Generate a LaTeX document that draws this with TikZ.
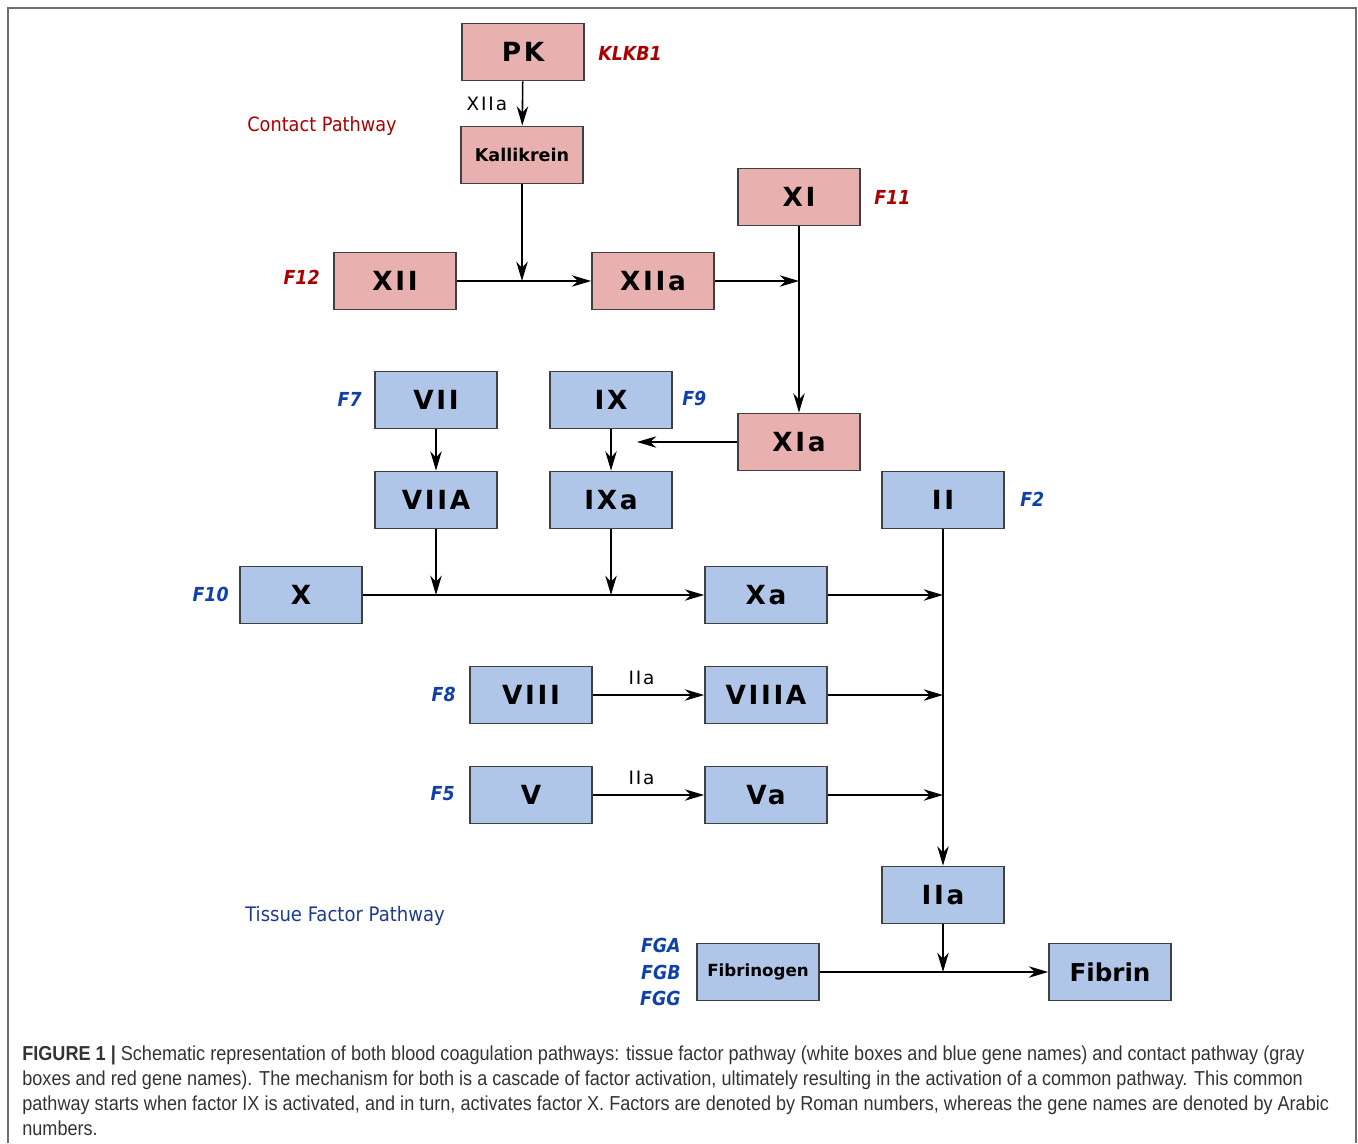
\documentclass[tikz,border=0pt]{standalone}
\usepackage{fontspec}
\setmainfont{DejaVu Sans}
\newfontfamily\condfont[FakeStretch=0.9]{DejaVu Sans}
\newfontfamily\spacedfont[LetterSpace=10]{DejaVu Sans}
\newfontfamily\capfont[FakeStretch=0.895]{Liberation Sans}
\usetikzlibrary{arrows.meta}

\definecolor{contactfill}{RGB}{233,176,176}
\definecolor{tissuefill}{RGB}{176,198,233}
\definecolor{genered}{RGB}{170,0,0}
\definecolor{geneblue}{RGB}{16,64,170}
\definecolor{pathblue}{RGB}{30,60,140}
\definecolor{framegray}{RGB}{110,110,110}

\tikzset{
  factor/.style={draw=black!75, line width=1pt, minimum width=2.44cm,
    minimum height=1.14cm, inner sep=0pt, font=\spacedfont\fontsize{15}{18}\selectfont\bfseries},
  contact/.style={factor, fill=contactfill},
  tissue/.style={factor, fill=tissuefill},
  gene/.style={font=\condfont\fontsize{11}{12}\selectfont\bfseries\itshape, inner sep=0pt},
  enzyme/.style={font=\spacedfont\fontsize{10.5}{12}\selectfont},
  conv/.style={draw=black, line width=0.9pt,
    -{Stealth[length=11pt, width=6.5pt, inset=3.5pt]}},
  captionline/.style={anchor=base west, inner sep=0pt,
    font=\capfont\fontsize{11.5}{14}\selectfont, text=black!80},
}

\begin{document}
\begin{tikzpicture}[x=0.02cm, y=-0.02cm]
  \useasboundingbox (0,0) rectangle (1358,1143);
  \draw [framegray, line width=1.2pt] (8,1143) -- (8,8) -- (1356,8) -- (1356,1143);

  % contact pathway
  \node [contact] (pk)   at (523, 52)  {PK};
  \node [contact, font=\fontsize{10}{12}\selectfont\bfseries] (kal) at (522, 155) {Kallikrein};
  \node [contact] (xi)   at (799, 197) {XI};
  \node [contact] (xii)  at (395, 281) {XII};
  \node [contact] (xiia) at (653, 281) {XIIa};
  \node [contact] (xia)  at (799, 442) {XIa};

  % tissue factor pathway
  \node [tissue] (vii)   at (436, 400) {VII};
  \node [tissue] (ix)    at (611, 400) {IX};
  \node [tissue] (viia)  at (436, 500) {VIIA};
  \node [tissue] (ixa)   at (611, 500) {IXa};
  \node [tissue] (ii)    at (943, 500) {II};
  \node [tissue] (x)     at (301, 595) {X};
  \node [tissue] (xa)    at (766, 595) {Xa};
  \node [tissue] (viii)  at (531, 695) {VIII};
  \node [tissue] (viiia) at (766, 695) {VIIIA};
  \node [tissue] (v)     at (531, 795) {V};
  \node [tissue] (va)    at (766, 795) {Va};
  \node [tissue] (iia)   at (943, 895) {IIa};
  \node [tissue, font=\fontsize{9.5}{12}\selectfont\bfseries] (fbg) at (758, 972) {Fibrinogen};
  \node [tissue, font=\fontsize{14}{16}\selectfont\bfseries] (fbn) at (1110, 972) {Fibrin};

  % gene names
  \node [gene, genered, anchor=west]  (klkb1) at (598, 53)  {KLKB1};
  \node [gene, genered, anchor=west]  (f11)   at (874, 197) {F11};
  \node [gene, genered, anchor=east]  (f12)   at (320, 277) {F12};
  \node [gene, geneblue, anchor=east] (f7)    at (362, 399) {F7};
  \node [gene, geneblue, anchor=west] (f9)    at (682, 398) {F9};
  \node [gene, geneblue, anchor=west] (f2)    at (1020, 499) {F2};
  \node [gene, geneblue, anchor=east] (f10)   at (229, 594) {F10};
  \node [gene, geneblue, anchor=east] (f8)    at (456, 694) {F8};
  \node [gene, geneblue, anchor=east] (f5)    at (455, 794) {F5};
  \node [gene, geneblue, anchor=east, align=right] (fgx) at (681, 972)
    {FGA\\[3pt]FGB\\[3pt]FGG};

  \node [genered, font=\condfont\fontsize{11.2}{13}\selectfont]  (contactlbl) at (322, 126) {Contact Pathway};
  \node [pathblue, font=\condfont\fontsize{11.4}{13}\selectfont] (tissuelbl)  at (345, 916) {Tissue Factor Pathway};

  % conversions
  \coordinate (xiatip) at (637, 442);
  \draw [conv] (pk) -- node [enzyme, left, xshift=-5pt] {XIIa} (kal);
  \draw [conv] (kal) -- (kal |- xii.east);
  \draw [conv] (xii) -- (xiia);
  \draw [conv] (xiia) -- (xiia -| xi);
  \draw [conv] (xi) -- (xia);
  \draw [conv] (xia) -- (xiatip);
  \draw [conv] (vii) -- (viia);
  \draw [conv] (ix) -- (ixa);
  \draw [conv] (viia) -- (viia |- x.east);
  \draw [conv] (ixa) -- (ixa |- x.east);
  \draw [conv] (x) -- (xa);
  \draw [conv] (xa) -- (xa -| ii);
  \draw [conv] (viii) -- node [enzyme, above, xshift=-4pt, yshift=2pt] {IIa} (viiia);
  \draw [conv] (viiia) -- (viiia -| ii);
  \draw [conv] (v) -- node [enzyme, above, xshift=-4pt, yshift=2pt] {IIa} (va);
  \draw [conv] (va) -- (va -| ii);
  \draw [conv] (ii) -- (iia);
  \draw [conv] (iia) -- (iia |- fbg.east);
  \draw [conv] (fbg) -- (fbn);

  % caption
  \node [captionline] (cap1) at (22, 1060) {\textbf{FIGURE 1 |} Schematic representation of both blood coagulation pathways: tissue factor pathway (white boxes and blue gene names) and contact pathway (gray};
  \node [captionline] (cap2) at (22, 1085) {boxes and red gene names). The mechanism for both is a cascade of factor activation, ultimately resulting in the activation of a common pathway. This common};
  \node [captionline] (cap3) at (22, 1110) {pathway starts when factor IX is activated, and in turn, activates factor X. Factors are denoted by Roman numbers, whereas the gene names are denoted by Arabic};
  \node [captionline] (cap4) at (22, 1135) {numbers.};
\end{tikzpicture}
\end{document}
